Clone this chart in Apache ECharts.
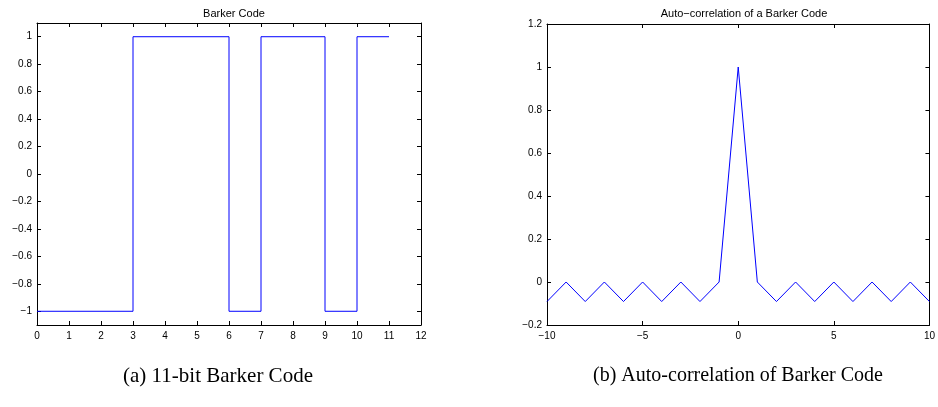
<!DOCTYPE html>
<html>
<head>
<meta charset="utf-8">
<script src="https://cdn.jsdelivr.net/npm/echarts@6/dist/echarts.min.js"></script>
<style>
html,body{margin:0;padding:0;background:#fff;}
#c{width:938px;height:407px;}
</style>
</head>
<body>
<div id="c"></div>
<script>
// ---- data ----
var codePositions = [0, 1, 2, 3, 4, 5, 6, 7, 8, 9, 10];
var barkerCode = [-1, -1, -1, 1, 1, 1, -1, 1, 1, -1, 1];
var lags = [-10, -9, -8, -7, -6, -5, -4, -3, -2, -1, 0, 1, 2, 3, 4, 5, 6, 7, 8, 9, 10];
var autoCorr = [-0.0909, 0, -0.0909, 0, -0.0909, 0, -0.0909, 0, -0.0909, 0, 1,
                0, -0.0909, 0, -0.0909, 0, -0.0909, 0, -0.0909, 0, -0.0909];
var xTicksA = [0, 1, 2, 3, 4, 5, 6, 7, 8, 9, 10, 11, 12];
var yTicksA = [-1, -0.8, -0.6, -0.4, -0.2, 0, 0.2, 0.4, 0.6, 0.8, 1];
var xTicksB = [-10, -5, 0, 5, 10];
var yTicksB = [-0.2, 0, 0.2, 0.4, 0.6, 0.8, 1, 1.2];
var titleA = 'Barker Code';
var titleB = 'Auto\u2212correlation of a Barker Code';
var captionA = '(a) 11-bit Barker Code';
var captionB = '(b) Auto-correlation of Barker Code';

// step series: hold last value until the end of the last bit
var seriesA = codePositions.map(function (x, i) { return [x, barkerCode[i]]; });
seriesA.push([codePositions[codePositions.length - 1] + 1, barkerCode[barkerCode.length - 1]]);
var seriesB = lags.map(function (x, i) { return [x, autoCorr[i]]; });

var FONT = '"Liberation Sans", Arial, Helvetica, sans-serif';
var SERIF = '"Liberation Serif", "Times New Roman", serif';
function fmt(v) {
  var s = String(Math.round(v * 1000) / 1000);
  return s.replace('-', '\u2212');
}
function mkAxis(opts) {
  return {
    type: 'value',
    gridIndex: opts.grid,
    position: opts.position,
    min: opts.min,
    max: opts.max,
    splitLine: { show: false },
    axisLine: { show: true, onZero: false, lineStyle: { color: '#000', width: 1 } },
    axisTick: { show: true, inside: true, length: 4, customValues: opts.ticks,
                lineStyle: { color: '#000', width: 1 } },
    axisLabel: opts.labels ? {
      show: true, customValues: opts.ticks, formatter: fmt,
      color: '#000', fontSize: 10, fontFamily: FONT, margin: opts.margin || 5
    } : { show: false }
  };
}

var chart = echarts.init(document.getElementById('c'), null, { renderer: 'canvas' });
chart.setOption({
  animation: false,
  backgroundColor: '#fff',
  title: [
    { text: titleA, left: 229, top: 3, textAlign: 'center',
      textStyle: { fontSize: 11, fontWeight: 'normal', color: '#000', fontFamily: FONT } },
    { text: titleB, left: 739, top: 3, textAlign: 'center',
      textStyle: { fontSize: 11, fontWeight: 'normal', color: '#000', fontFamily: FONT } }
  ],
  grid: [
    { left: 37, right: 517, top: 23, bottom: 82 },
    { left: 547, right: 7, top: 24, bottom: 82 }
  ],
  xAxis: [
    mkAxis({ grid: 0, position: 'bottom', min: 0, max: 12, ticks: xTicksA, labels: true, margin: 6 }),
    mkAxis({ grid: 0, position: 'top', min: 0, max: 12, ticks: xTicksA, labels: false }),
    mkAxis({ grid: 1, position: 'bottom', min: -10, max: 10, ticks: xTicksB, labels: true, margin: 6 }),
    mkAxis({ grid: 1, position: 'top', min: -10, max: 10, ticks: xTicksB, labels: false })
  ],
  yAxis: [
    mkAxis({ grid: 0, position: 'left', min: -1.1, max: 1.1, ticks: yTicksA, labels: true }),
    mkAxis({ grid: 0, position: 'right', min: -1.1, max: 1.1, ticks: yTicksA, labels: false }),
    mkAxis({ grid: 1, position: 'left', min: -0.2, max: 1.2, ticks: yTicksB, labels: true }),
    mkAxis({ grid: 1, position: 'right', min: -0.2, max: 1.2, ticks: yTicksB, labels: false })
  ],
  series: [
    { type: 'line', xAxisIndex: 0, yAxisIndex: 0, data: seriesA, step: 'end',
      showSymbol: false, lineStyle: { color: '#0000ff', width: 1 }, silent: true },
    { type: 'line', xAxisIndex: 2, yAxisIndex: 2, data: seriesB,
      showSymbol: false, lineStyle: { color: '#0000ff', width: 1 }, silent: true }
  ],
  graphic: [
    { type: 'text', x: 218, y: 376,
      style: { text: captionA, fill: '#000', fontSize: 21, fontFamily: SERIF,
               align: 'center', verticalAlign: 'middle' } },
    { type: 'text', x: 738, y: 376,
      style: { text: captionB, fill: '#000', fontSize: 20, fontFamily: SERIF,
               align: 'center', verticalAlign: 'middle' } }
  ]
});
</script>
</body>
</html>
